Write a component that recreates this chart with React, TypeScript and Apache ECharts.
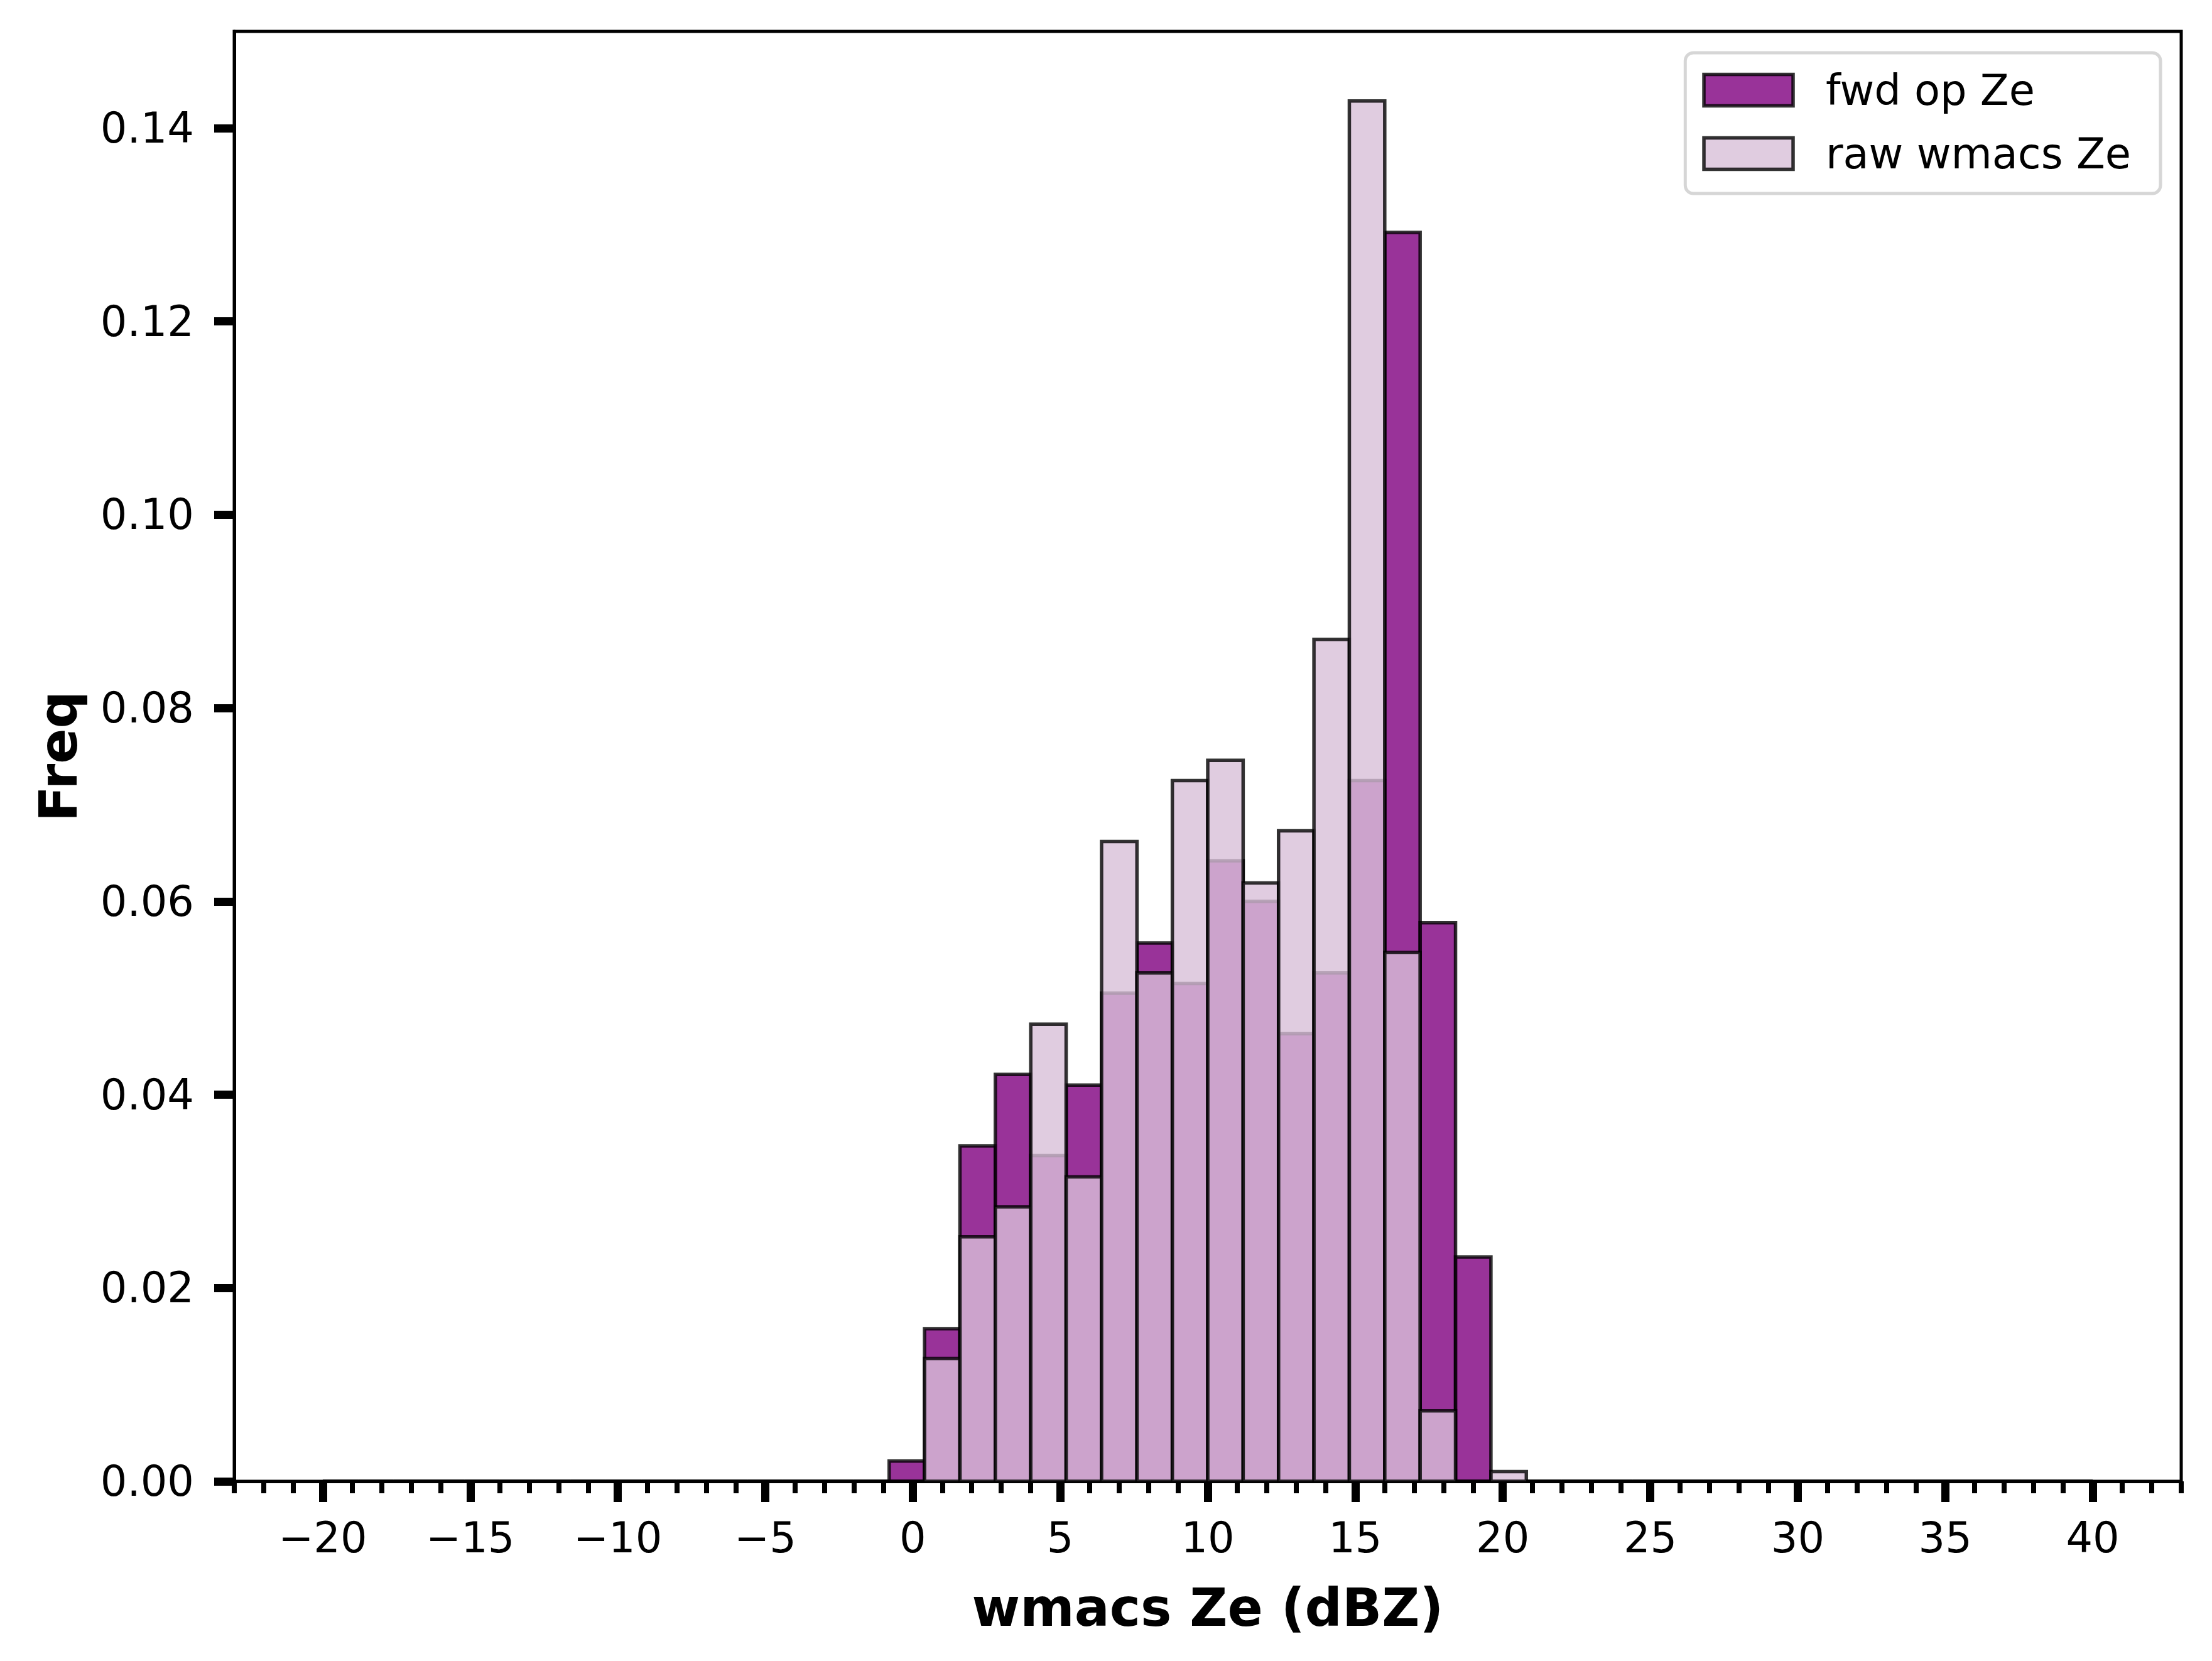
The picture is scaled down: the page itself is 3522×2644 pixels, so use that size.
import React, { useEffect, useRef } from "react";
import * as echarts from "echarts";

// Histogram bin edges (dBZ), 50 bins of width 1.2 from -20 to 40
const binEdges = [
  -20, -18.8, -17.6, -16.4, -15.2, -14, -12.8, -11.6, -10.4, -9.2, -8, -6.8, -5.6, -4.4, -3.2, -2,
  -0.8, 0.4, 1.6, 2.8, 4, 5.2, 6.4, 7.6, 8.8, 10, 11.2, 12.4, 13.6, 14.8, 16, 17.2, 18.4, 19.6, 20.8,
  22, 23.2, 24.4, 25.6, 26.8, 28, 29.2, 30.4, 31.6, 32.8, 34, 35.2, 36.4, 37.6, 38.8, 40,
];

const fwdOpZe = [
  0, 0, 0, 0, 0, 0, 0, 0, 0, 0, 0, 0, 0, 0, 0, 0,
  0.0021, 0.0158, 0.0347, 0.0421, 0.0337, 0.041, 0.0505, 0.0557, 0.0515, 0.0642, 0.06, 0.0463,
  0.0526, 0.0725, 0.1292, 0.0578, 0.0232, 0,
  0, 0, 0, 0, 0, 0, 0, 0, 0, 0, 0, 0, 0, 0, 0, 0,
];

const rawWmacsZe = [
  0, 0, 0, 0, 0, 0, 0, 0, 0, 0, 0, 0, 0, 0, 0, 0,
  0, 0.0127, 0.0253, 0.0284, 0.0473, 0.0315, 0.0662, 0.0526, 0.0725, 0.0746, 0.0619, 0.0673,
  0.0871, 0.1428, 0.0547, 0.0073, 0, 0.001,
  0, 0, 0, 0, 0, 0, 0, 0, 0, 0, 0, 0, 0, 0, 0, 0,
];

const xMajorTicks = [-20, -15, -10, -5, 0, 5, 10, 15, 20, 25, 30, 35, 40];
const xMinorTicks = [
  -23, -22, -21, -20, -19, -18, -17, -16, -15, -14, -13, -12, -11, -10, -9, -8, -7, -6, -5, -4, -3,
  -2, -1, 0, 1, 2, 3, 4, 5, 6, 7, 8, 9, 10, 11, 12, 13, 14, 15, 16, 17, 18, 19, 20, 21, 22, 23, 24,
  25, 26, 27, 28, 29, 30, 31, 32, 33, 34, 35, 36, 37, 38, 39, 40, 41, 42, 43,
];
const yTicks = [0, 0.02, 0.04, 0.06, 0.08, 0.1, 0.12, 0.14];

const seriesNames = ["fwd op Ze", "raw wmacs Ze"];

const FONT = "DejaVu Sans";
const EDGE = "rgba(0,0,0,0.8)";
const FWD_FILL = "rgba(128,0,128,0.8)";
const RAW_FILL = "rgba(216,191,216,0.8)";
const EDGE_W = 5.5;

function histData(values: number[]) {
  return values.map((v, i) => [binEdges[i], binEdges[i + 1], v]);
}

function makeHist(name: string, values: number[], fill: string, z: number) {
  return {
    name,
    type: "custom",
    xAxisIndex: 0,
    yAxisIndex: 0,
    z,
    itemStyle: { color: fill, borderColor: EDGE, borderWidth: EDGE_W },
    encode: { x: [0, 1], y: 2 },
    data: histData(values),
    renderItem: (params: any, api: any) => {
      const x0 = api.value(0);
      const x1 = api.value(1);
      const v = api.value(2);
      const p0 = api.coord([x0, v]);
      const p1 = api.coord([x1, 0]);
      return {
        type: "rect",
        shape: { x: p0[0], y: p0[1], width: p1[0] - p0[0], height: p1[1] - p0[1] },
        style: { fill, stroke: EDGE, lineWidth: EDGE_W },
      };
    },
  };
}

export default function App() {
  const ref = useRef<HTMLDivElement>(null);

  useEffect(() => {
    document.body.style.margin = "0";
    if (!ref.current) return;
    const chart = echarts.init(ref.current, undefined, { renderer: "svg" });
    const fmtX = (v: number) => (v < 0 ? "\u2212" + Math.abs(v) : String(v));
    chart.setOption({
      animation: false,
      backgroundColor: "#ffffff",
      textStyle: { fontFamily: FONT },
      grid: {
        left: 373,
        right: 49,
        top: 50,
        bottom: 286,
        show: true,
        borderColor: "#000000",
        borderWidth: 5,
        backgroundColor: "transparent",
      },
      legend: {
        orient: "vertical",
        right: 82,
        top: 84,
        icon: "rect",
        itemWidth: 142,
        itemHeight: 50,
        itemGap: 34,
        padding: [26, 47, 30, 27],
        backgroundColor: "rgba(255,255,255,0.8)",
        borderColor: "#d6d6d6",
        borderWidth: 5,
        borderRadius: 13,
        textStyle: {
          fontFamily: FONT,
          fontSize: 67,
          lineHeight: 50,
          color: "#000000",
          padding: [0, 0, 0, 47],
        },
        data: [
          { name: seriesNames[0], itemStyle: { color: FWD_FILL, borderColor: EDGE, borderWidth: EDGE_W } },
          { name: seriesNames[1], itemStyle: { color: RAW_FILL, borderColor: EDGE, borderWidth: EDGE_W } },
        ],
      },
      xAxis: [
        {
          type: "value",
          min: -23,
          max: 43,
          position: "bottom",
          name: "wmacs Ze (dBZ)",
          nameLocation: "middle",
          nameGap: 160,
          nameTextStyle: { fontFamily: FONT, fontSize: 83, fontWeight: "bold", color: "#000000" },
          splitLine: { show: false },
          axisLine: { show: true, onZero: false, lineStyle: { color: "#000000", width: 5 } },
          axisTick: {
            show: true,
            length: 33,
            lineStyle: { color: "#000000", width: 13 },
            customValues: xMajorTicks,
          },
          axisLabel: {
            show: true,
            margin: 56,
            fontFamily: FONT,
            fontSize: 67,
            color: "#000000",
            customValues: xMajorTicks,
            formatter: (v: number) => fmtX(v),
          },
        },
        {
          type: "value",
          min: -23,
          max: 43,
          position: "bottom",
          splitLine: { show: false },
          axisLine: { show: false, onZero: false },
          axisTick: {
            show: true,
            length: 19,
            lineStyle: { color: "#000000", width: 8 },
            customValues: xMinorTicks,
          },
          axisLabel: { show: false },
        },
      ],
      yAxis: {
        type: "value",
        min: 0,
        max: 0.15,
        name: "Freq",
        nameLocation: "middle",
        nameRotate: 90,
        nameGap: 238,
        nameTextStyle: { fontFamily: FONT, fontSize: 83, fontWeight: "bold", color: "#000000" },
        splitLine: { show: false },
        axisLine: { show: true, onZero: false, lineStyle: { color: "#000000", width: 5 } },
        axisTick: {
          show: true,
          length: 32,
          lineStyle: { color: "#000000", width: 13 },
          customValues: yTicks,
        },
        axisLabel: {
          show: true,
          margin: 64,
          fontFamily: FONT,
          fontSize: 67,
          color: "#000000",
          customValues: yTicks,
          formatter: (v: number) => v.toFixed(2),
        },
      },
      series: [
        makeHist(seriesNames[0], fwdOpZe, FWD_FILL, 2),
        makeHist(seriesNames[1], rawWmacsZe, RAW_FILL, 3),
      ],
    });
    return () => chart.dispose();
  }, []);

  return <div ref={ref} style={{ width: 3522, height: 2644 }} />;
}
